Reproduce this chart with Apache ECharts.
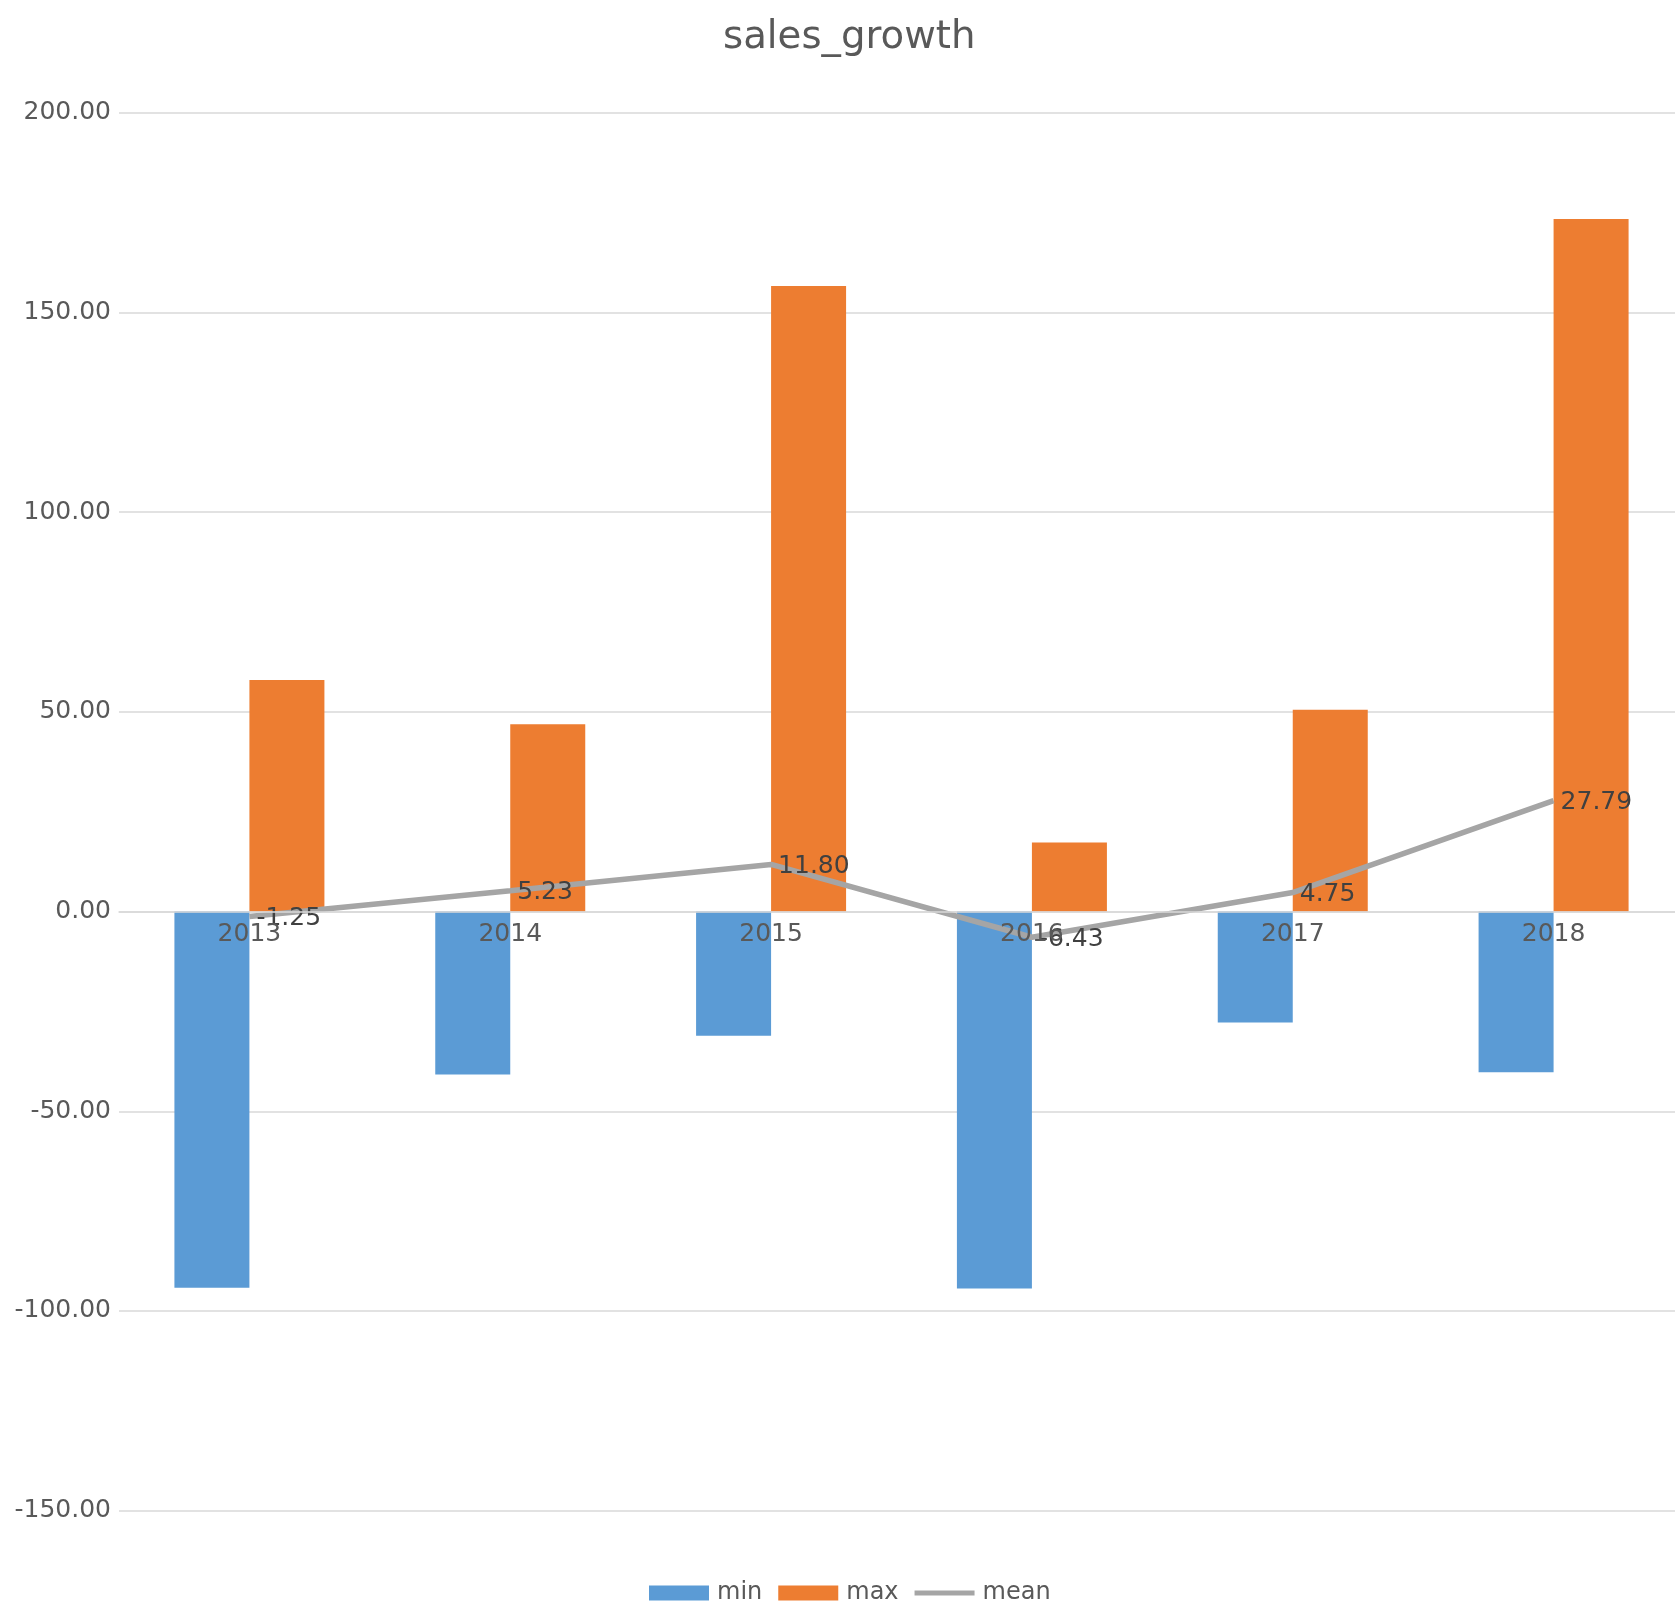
<!DOCTYPE html>
<html>
<head>
<meta charset="utf-8">
<script src="https://cdn.jsdelivr.net/npm/echarts@6/dist/echarts.min.js"></script>
<style>
  html, body { margin: 0; padding: 0; background: #fff; overflow: hidden; }
  #main { width: 1684px; height: 1606px; }
</style>
</head>
<body>
<div id="main"></div>
<script>
const years = ['2013', '2014', '2015', '2016', '2017', '2018'];
const minValues = [-94.2, -40.8, -31.1, -94.4, -27.8, -40.2];
const maxValues = [58.0, 46.9, 156.6, 17.3, 50.5, 173.4];
const meanValues = [-1.25, 5.23, 11.80, -6.43, 4.75, 27.79];

const chart = echarts.init(document.getElementById('main'));

const font = 'DejaVu Sans';
const textGray = '#595959';
// thin bar inside a 60x15 box, used as the legend icon of the line
const lineIcon = 'path://M0,0 M60,15 M0,5 L60,5 L60,10 L0,10 Z';

// the category axis sits on the zero line of the value axis
const gridTop = 112.7;
const gridBottom = 95.3;
const plotHeight = 1606 - gridTop - gridBottom;
const zeroOffset = -plotHeight * 150 / 350;

const option = {
  backgroundColor: '#fff',
  title: {
    text: 'sales_growth',
    left: 718,
    top: 13,
    textStyle: {
      fontFamily: font,
      fontSize: 38.7,
      fontWeight: 'normal',
      color: textGray,
    },
  },
  legend: {
    left: 644,
    top: 1576,
    itemWidth: 60,
    itemHeight: 15,
    itemGap: 16,
    textStyle: {
      fontFamily: font,
      fontSize: 24,
      color: textGray,
      padding: [0, 0, 0, 3],
    },
    data: [
      { name: 'min', icon: 'rect' },
      { name: 'max', icon: 'rect' },
      { name: 'mean', icon: lineIcon },
    ],
  },
  grid: {
    left: 119,
    right: 0,
    top: gridTop,
    bottom: gridBottom,
    containLabel: false,
    outerBoundsMode: 'none',
  },
  xAxis: {
    type: 'category',
    data: years,
    position: 'bottom',
    offset: zeroOffset,
    z: 10,
    axisLine: {
      show: true,
      onZero: false,
      lineStyle: { color: '#d9d9d9', width: 1.5 },
    },
    axisTick: { show: false },
    axisLabel: {
      margin: 10,
      fontFamily: font,
      fontSize: 25,
      color: textGray,
    },
  },
  yAxis: {
    type: 'value',
    min: -150,
    max: 200,
    interval: 50,
    axisLine: { show: false },
    axisTick: { show: false },
    axisLabel: {
      margin: 8,
      fontFamily: font,
      fontSize: 25,
      color: textGray,
      formatter: (v) => v.toFixed(2),
    },
    splitLine: { lineStyle: { color: '#d9d9d9', width: 1.5 } },
  },
  series: [
    {
      name: 'min',
      type: 'bar',
      barWidth: 75,
      barGap: '0%',
      itemStyle: { color: '#5b9bd5' },
      data: minValues,
    },
    {
      name: 'max',
      type: 'bar',
      barWidth: 75,
      barGap: '0%',
      itemStyle: { color: '#ed7d31' },
      data: maxValues,
    },
    {
      name: 'mean',
      type: 'line',
      symbol: 'circle',
      symbolSize: 0,
      z: 5,
      lineStyle: { color: '#a5a5a5', width: 5.5 },
      itemStyle: { color: '#a5a5a5' },
      label: {
        show: true,
        position: 'right',
        distance: 7,
        offset: [0, 2],
        fontFamily: font,
        fontSize: 25,
        color: '#404040',
        formatter: (p) => p.value.toFixed(2),
      },
      data: meanValues,
    },
  ],
};

chart.setOption(option);
</script>
</body>
</html>
